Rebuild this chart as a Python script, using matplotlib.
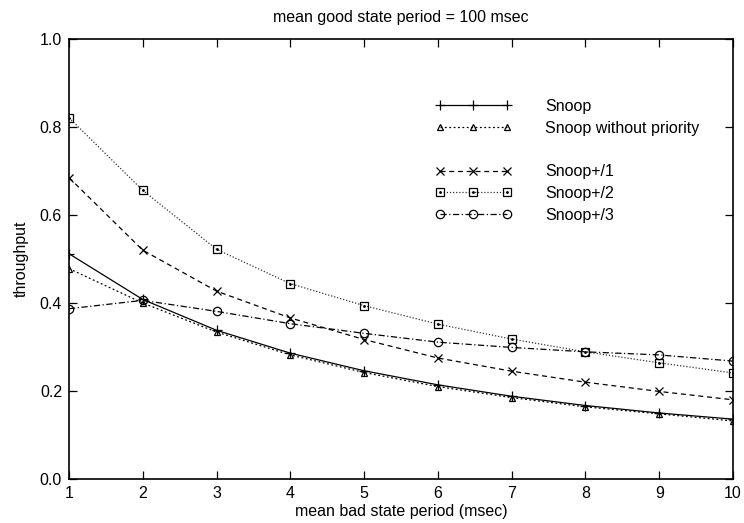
import matplotlib
matplotlib.use("Agg")
import matplotlib.pyplot as plt
from matplotlib.lines import Line2D
from matplotlib.legend_handler import HandlerTuple

# mean bad state period (msec)
bad_period = [1, 2, 3, 4, 5, 6, 7, 8, 9, 10]

snoop = [0.512, 0.408, 0.338, 0.286, 0.246, 0.214, 0.188, 0.167, 0.150, 0.136]
snoop_nopri = [0.478, 0.400, 0.334, 0.282, 0.242, 0.210, 0.185, 0.164, 0.148, 0.132]
snoop_p1 = [0.685, 0.520, 0.427, 0.366, 0.317, 0.275, 0.245, 0.220, 0.199, 0.180]
snoop_p2 = [0.821, 0.656, 0.522, 0.444, 0.394, 0.352, 0.318, 0.289, 0.264, 0.241]
snoop_p3 = [0.387, 0.406, 0.381, 0.353, 0.331, 0.311, 0.299, 0.289, 0.282, 0.268]

plt.rcParams['font.family'] = ['Liberation Sans', 'DejaVu Sans']
fs = 11.5

fig = plt.figure(figsize=(7.44, 5.23), dpi=100)
ax = fig.add_axes([69/744, 1 - 479/523, (733 - 69)/744, (479 - 39)/523])

lw = 0.9
h1, = ax.plot(bad_period, snoop, color='black', lw=lw, ls='-',
              marker='+', ms=7, mew=0.9)
h2, = ax.plot(bad_period, snoop_nopri, color='black', lw=lw, ls=(0, (1.5, 2)),
              marker='^', ms=5, mfc='none', mew=0.9)
h3, = ax.plot(bad_period, snoop_p1, color='black', lw=lw, ls=(0, (4, 3)),
              marker='x', ms=6, mew=0.9)
h4, = ax.plot(bad_period, snoop_p2, color='#333333', lw=lw, ls=(0, (1, 1.5)),
              marker='s', ms=6, mfc='none', mec='black', mew=0.9)
h4d, = ax.plot(bad_period, snoop_p2, ls='none', marker='.', ms=2, color='black')
h5, = ax.plot(bad_period, snoop_p3, color='black', lw=lw, ls=(0, (5, 2, 1, 2)),
              marker='o', ms=6, mfc='none', mew=0.9)
blank = Line2D([], [], ls='none')

ax.set_xlim(1, 10)
ax.set_ylim(0, 1.0)
ax.set_xticks(bad_period)
ax.set_yticks([0.0, 0.2, 0.4, 0.6, 0.8, 1.0])
ax.set_yticklabels(['0.0', '0.2', '0.4', '0.6', '0.8', '1.0'])
ax.tick_params(direction='in', length=6, width=0.9, top=True, right=True,
               labelsize=fs, pad=5)
for sp in ax.spines.values():
    sp.set_linewidth(1.2)

ax.set_xlabel('mean bad state period (msec)', fontsize=fs, labelpad=2)
ax.set_ylabel('throughput', fontsize=fs, labelpad=8)
ax.set_title('mean good state period = 100 msec', fontsize=fs, pad=12)

ax.legend([h1, h2, blank, h3, (h4, h4d), h5],
          ['Snoop', 'Snoop without priority', ' ', 'Snoop+/1', 'Snoop+/2', 'Snoop+/3'],
          handler_map={tuple: HandlerTuple(ndivide=1)},
          loc='upper left', bbox_to_anchor=(435/744, 1 - 99/523),
          bbox_transform=fig.transFigure, frameon=False, fontsize=fs,
          numpoints=3, handlelength=4.8, handletextpad=2.1,
          labelspacing=0.42, borderpad=0, borderaxespad=0)

fig.savefig('out.png', dpi=100)
